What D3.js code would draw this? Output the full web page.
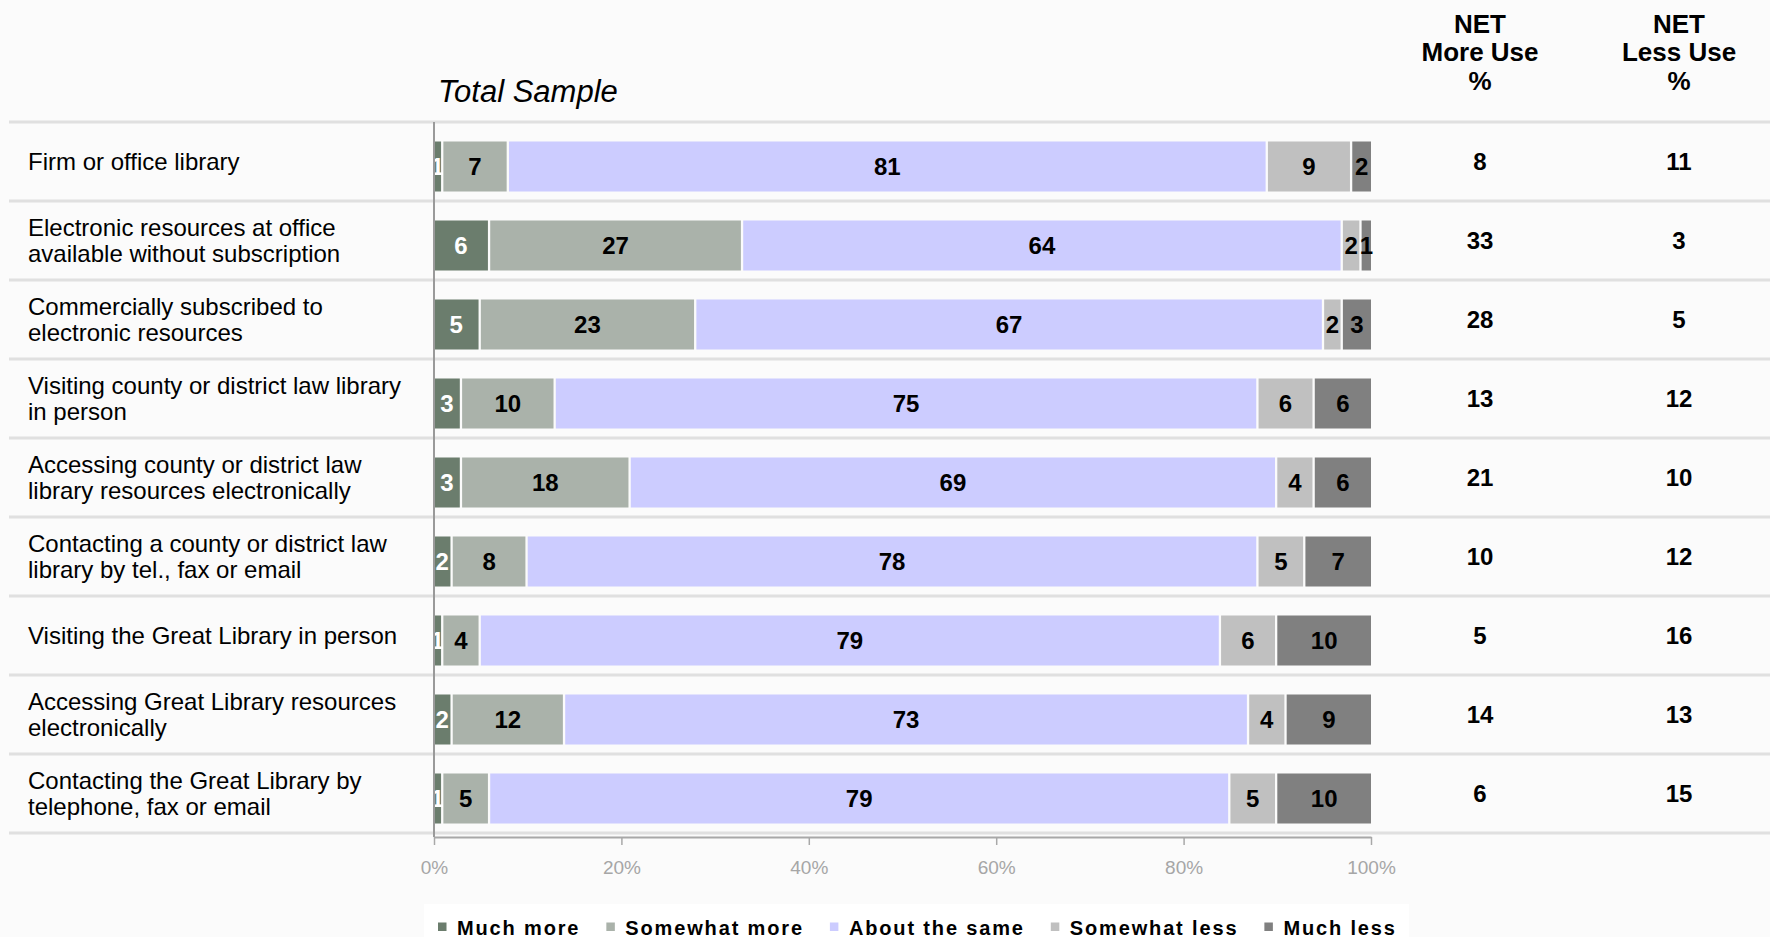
<!DOCTYPE html>
<html>
<head>
<meta charset="utf-8">
<script src="https://cdn.jsdelivr.net/npm/d3@7"></script>
<style>
  html, body { margin: 0; padding: 0; background: #fbfbfb; }
  svg { display: block; font-family: "Liberation Sans", Arial, sans-serif; }
</style>
</head>
<body>
<svg id="chart"></svg>
<script>
// Chart data
const categories = [
  "Firm or office library",
  "Electronic resources at office\navailable without subscription",
  "Commercially subscribed to\nelectronic resources",
  "Visiting county or district law library\nin person",
  "Accessing county or district law\nlibrary resources electronically",
  "Contacting a county or district law\nlibrary by tel., fax or email",
  "Visiting the Great Library in person",
  "Accessing Great Library resources\nelectronically",
  "Contacting the Great Library by\ntelephone, fax or email"
];
const seriesNames = ["Much more", "Somewhat more", "About the same", "Somewhat less", "Much less"];
const muchMore = [1, 6, 5, 3, 3, 2, 1, 2, 1];
const somewhatMore = [7, 27, 23, 10, 18, 8, 4, 12, 5];
const aboutSame = [81, 64, 67, 75, 69, 78, 79, 73, 79];
const somewhatLess = [9, 2, 2, 6, 4, 5, 6, 4, 5];
const muchLess = [2, 1, 3, 6, 6, 7, 10, 9, 10];
const netMore = [8, 33, 28, 13, 21, 10, 5, 14, 6];
const netLess = [11, 3, 5, 12, 10, 12, 16, 13, 15];
const xTicks = [0, 20, 40, 60, 80, 100];

const colors = ["#6b7d6d", "#aab2aa", "#ccccff", "#c0c0c0", "#808080"];
const labelColors = ["#ffffff", "#000000", "#000000", "#000000", "#000000"];

const width = 1770;
const height = 937;
const font = '"Liberation Sans", Arial, sans-serif';

const svg = d3.select("#chart").attr("width", width).attr("height", height);

// table for the stack layout
const seriesValues = [muchMore, somewhatMore, aboutSame, somewhatLess, muchLess];
const table = categories.map((c, i) => {
  const row = { category: c };
  seriesNames.forEach((s, j) => (row[s] = seriesValues[j][i]));
  return row;
});
const stacked = d3.stack().keys(seriesNames)(table);

const x = d3.scaleLinear().domain([0, 100]).range([434, 1371]);
const y = d3.scaleBand().domain(categories).range([122, 833]).padding(0);
const barOffset = 19.5;
const barHeight = 50;

// row separators (header line + one under each row)
const sepYs = [122].concat(categories.map((c) => y(c) + y.bandwidth()));
svg
  .append("g")
  .selectAll("line")
  .data(sepYs)
  .enter()
  .append("line")
  .attr("x1", 9)
  .attr("x2", width)
  .attr("y1", (d) => d)
  .attr("y2", (d) => d)
  .attr("stroke", "#e0e0e0")
  .attr("stroke-width", 3);

// headers
svg
  .append("text")
  .attr("x", 438)
  .attr("y", 102)
  .attr("font-size", "31px")
  .attr("font-style", "italic")
  .attr("fill", "#000")
  .text("Total Sample");

const netHeaders = [
  { x: 1480, lines: ["NET", "More Use", "%"] },
  { x: 1679, lines: ["NET", "Less Use", "%"] }
];
netHeaders.forEach((h) => {
  svg
    .append("g")
    .selectAll("text")
    .data(h.lines)
    .enter()
    .append("text")
    .attr("x", h.x)
    .attr("y", (d, i) => 32.5 + i * 28.5)
    .attr("text-anchor", "middle")
    .attr("font-size", "26px")
    .attr("font-weight", "bold")
    .text((d) => d);
});

// row labels
const labelGroup = svg.append("g");
categories.forEach((c) => {
  const lines = c.split("\n");
  const cy = y(c) + y.bandwidth() / 2;
  labelGroup
    .append("g")
    .selectAll("text")
    .data(lines)
    .enter()
    .append("text")
    .attr("x", 28)
    .attr("y", (d, i) => cy + 8.5 + (i - (lines.length - 1) / 2) * 26)
    .attr("font-size", "24px")
    .attr("fill", "#000")
    .text((d) => d);
});

// stacked bars
const seriesGroups = svg
  .append("g")
  .selectAll("g.series")
  .data(stacked)
  .enter()
  .append("g")
  .attr("class", "series");

seriesGroups
  .selectAll("rect")
  .data((s) => s.map((d) => ({ d, key: s.key, idx: s.index })))
  .enter()
  .append("rect")
  .attr("x", (p) => x(p.d[0]))
  .attr("y", (p) => y(p.d.data.category) + barOffset)
  .attr("width", (p) => Math.max(0.5, x(p.d[1]) - x(p.d[0]) - (p.idx < 4 ? 2.3 : 0)))
  .attr("height", barHeight)
  .attr("fill", (p) => colors[p.idx]);

seriesGroups
  .selectAll("text")
  .data((s) => s.map((d) => ({ d, key: s.key, idx: s.index })))
  .enter()
  .append("text")
  .attr("x", (p) => (x(p.d[0]) + x(p.d[1]) - (p.idx < 4 ? 2.3 : 0)) / 2)
  .attr("y", (p) => y(p.d.data.category) + barOffset + barHeight / 2 + 8.5)
  .attr("text-anchor", "middle")
  .attr("font-size", "24px")
  .attr("font-weight", "bold")
  .attr("fill", (p) => labelColors[p.idx])
  .text((p) => p.d[1] - p.d[0]);

// NET columns
const netCols = [
  { x: 1480, values: netMore },
  { x: 1679, values: netLess }
];
netCols.forEach((col) => {
  svg
    .append("g")
    .selectAll("text")
    .data(col.values)
    .enter()
    .append("text")
    .attr("x", col.x)
    .attr("y", (d, i) => y(categories[i]) + y.bandwidth() / 2 + 8.5)
    .attr("text-anchor", "middle")
    .attr("font-size", "24px")
    .attr("font-weight", "bold")
    .text((d) => d);
});

// vertical axis line
svg
  .append("line")
  .attr("x1", x(0))
  .attr("x2", x(0))
  .attr("y1", 122)
  .attr("y2", 837)
  .attr("stroke", "#9a9a9a")
  .attr("stroke-width", 2);

// x axis
const xAxis = svg
  .append("g")
  .attr("transform", "translate(0,837)")
  .call(
    d3
      .axisBottom(x)
      .tickValues(xTicks)
      .tickFormat((d) => d + "%")
      .tickSize(8)
      .tickSizeOuter(0)
      .tickPadding(16)
  );
xAxis.select(".domain").attr("stroke", "#a8a8a8").attr("stroke-width", 2);
xAxis.selectAll(".tick line").attr("stroke", "#a8a8a8").attr("stroke-width", 1.5);
xAxis
  .selectAll(".tick text")
  .attr("fill", "#a6a6a6")
  .attr("font-size", "19px")
  .attr("font-family", font);

// legend
svg
  .append("rect")
  .attr("x", 424)
  .attr("y", 904)
  .attr("width", 985)
  .attr("height", 33)
  .attr("fill", "#ffffff");

const legend = svg.append("g");
let lx = 438;
seriesNames.forEach((name, i) => {
  legend
    .append("rect")
    .attr("x", lx)
    .attr("y", 922.5)
    .attr("width", 8.5)
    .attr("height", 8.5)
    .attr("fill", colors[i]);
  const t = legend
    .append("text")
    .attr("x", lx + 19)
    .attr("y", 934.5)
    .attr("font-size", "20px")
    .attr("font-weight", "bold")
    .attr("letter-spacing", "1.85px")
    .attr("fill", "#000")
    .text(name);
  lx += 19 + t.node().getComputedTextLength() + 26;
});
</script>
</body>
</html>
